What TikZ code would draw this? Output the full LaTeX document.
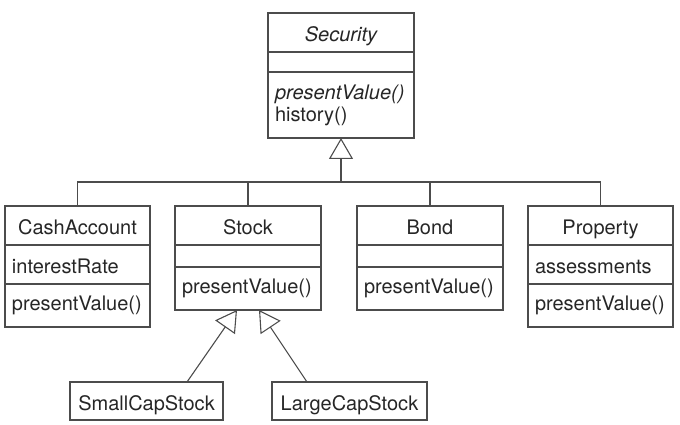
\documentclass[tikz,border=0pt]{standalone}
\usepackage{fontspec}
\setmainfont{TeX Gyre Heros}
\usetikzlibrary{positioning, arrows.meta, calc}

\definecolor{umlline}{gray}{0.3}
\definecolor{umltext}{gray}{0.15}

\tikzset{
  umlbox/.style={draw=umlline, line width=1.1pt, outer sep=0pt, inner xsep=7pt, inner ysep=0pt,
    text=umltext, font=\fontsize{20}{22}\selectfont, text width=#1},
  umltitle/.style={umlbox=#1, align=center, minimum height=39pt, text height=18.5pt, text depth=0pt},
  umlpart/.style={umlbox=#1, align=left, minimum height=39pt, text height=18.5pt, text depth=0pt},
  umlempty/.style={umlbox=#1, minimum height=22pt},
  umlops/.style={umlbox=#1, align=left, minimum height=43pt},
  umlwire/.style={draw=umlline, line width=1.1pt},
  inherit/.style={umlwire, -{Triangle[open, length=21pt, width=24pt]}},
}

\begin{document}
\begin{tikzpicture}[x=1pt, y=-1pt]
  \useasboundingbox (0,0) rectangle (680,425);

  % --- superclass ---
  \node[umltitle=132pt] (security) at (341,32.5) {\itshape Security};
  \node[umlempty=132pt, minimum height=20pt, below=0pt of security] (securityA) {};
  \node[umlops=132pt, minimum height=66pt, below=0pt of securityA] (securityM) {{\itshape presentValue()}\\history()};

  % --- subclasses ---
  \node[umltitle=131pt] (cash) at (77.5,225.5) {CashAccount};
  \node[umlpart=131pt, below=0pt of cash] (cashA) {interestRate};
  \node[umlops=131pt, below=0pt of cashA] (cashM) {presentValue()};

  \node[umltitle=132pt] (stock) at (248,225.5) {Stock};
  \node[umlempty=132pt, below=0pt of stock] (stockA) {};
  \node[umlops=132pt, below=0pt of stockA] (stockM) {presentValue()};

  \node[umltitle=132pt] (bond) at (430,225.5) {Bond};
  \node[umlempty=132pt, below=0pt of bond] (bondA) {};
  \node[umlops=132pt, below=0pt of bondA] (bondM) {presentValue()};

  \node[umltitle=131pt] (property) at (600.5,225.5) {Property};
  \node[umlpart=131pt, below=0pt of property] (propertyA) {assessments};
  \node[umlops=131pt, below=0pt of propertyA] (propertyM) {presentValue()};

  % --- stock subclasses ---
  \node[umltitle=139pt, minimum height=38pt] (smallcap) at (146.5,401) {SmallCapStock};
  \node[umltitle=141pt, minimum height=38pt] (largecap) at (349.5,401) {LargeCapStock};

  % --- generalisation ---
  \coordinate (bus) at (341,182);
  \foreach \c in {cash, stock, bond, property}
    \draw[umlwire] (\c.north) |- (bus);
  \draw[inherit] (bus) -- (securityM.south);

  \draw[inherit] ($(smallcap.north east)+(-36,0)$) -- ($(stockM.south)+(-11,0)$);
  \draw[inherit] ($(largecap.north west)+(35,0)$) -- ($(stockM.south)+(11,0)$);
\end{tikzpicture}
\end{document}
